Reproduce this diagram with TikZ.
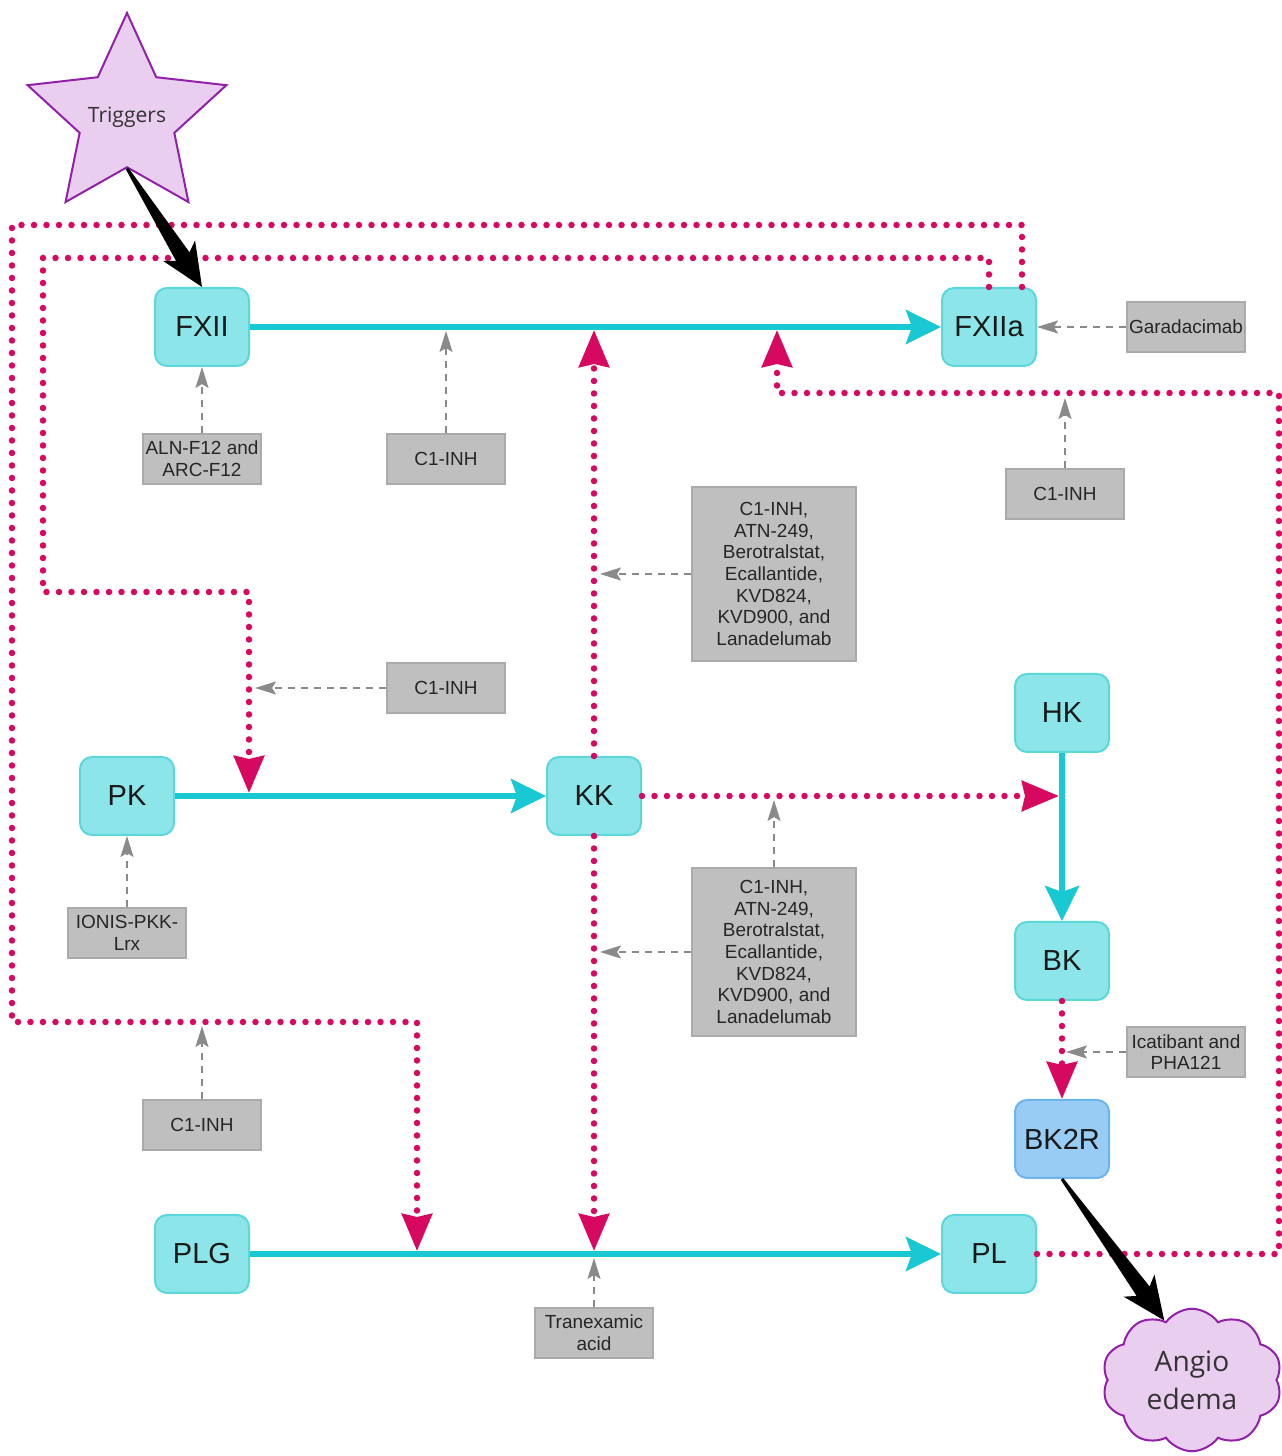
\documentclass[tikz,border=0pt]{standalone}
\usepackage{fontspec}
\setmainfont{Liberation Sans}
\newfontfamily\opensans{Open Sans}
\usetikzlibrary{arrows.meta,calc,shapes.geometric,shapes.symbols}

\definecolor{factorfill}{HTML}{8CE5E8}
\definecolor{factordraw}{HTML}{5CD7DC}
\definecolor{receptorfill}{HTML}{99CCF4}
\definecolor{receptordraw}{HTML}{6BB4EE}
\definecolor{activation}{HTML}{18C8D2}
\definecolor{feedback}{HTML}{D6085F}
\definecolor{drugfill}{HTML}{BFBFBF}
\definecolor{drugdraw}{HTML}{AAAAAA}
\definecolor{inhibition}{HTML}{8A8A8A}
\definecolor{eventfill}{HTML}{E9CEEF}
\definecolor{eventdraw}{HTML}{9021A8}

\tikzset{
  factor/.style={draw=factordraw, fill=factorfill, line width=0.04cm, rounded corners=0.24cm,
    minimum width=1.88cm, minimum height=1.56cm, inner sep=0pt, text=black!90,
    font=\fontsize{16.5}{19}\selectfont},
  receptor/.style={factor, draw=receptordraw, fill=receptorfill},
  drug/.style={draw=drugdraw, fill=drugfill, line width=0.04cm, minimum width=2.36cm,
    minimum height=1.0cm, inner sep=1pt, align=center, text=black!85,
    font=\fontsize{10.8}{12.3}\selectfont},
  bigdrug/.style={drug, minimum width=3.28cm},
  event/.style={draw=eventdraw, fill=eventfill, line width=0.04cm, text=black!80, inner sep=0pt, align=center},
  activate/.style={draw=activation, line width=0.11cm, -{Stealth[length=0.7cm,width=0.68cm,inset=0.12cm]}},
  feed/.style={draw=feedback, line width=0.13cm, line cap=round, dash pattern=on 0pt off 0.25cm,
    -{Stealth[length=0.74cm,width=0.6cm,inset=0.06cm]}},
  block/.style={draw=inhibition, line width=0.035cm, dash pattern=on 0.14cm off 0.12cm,
    -{Stealth[length=0.42cm,width=0.26cm,inset=0.08cm]}},
}

% tapered black arrow from #1 to #2
\newcommand{\fatarrow}[2]{%
  \path ($(#2)!0.72cm!(#1)$) coordinate (fa-neck) ($(#2)!0.86cm!(#1)$) coordinate (fa-barb);%
  \fill [black] ($(#1)!0.03cm!90:(#2)$) -- ($(fa-neck)!0.16cm!-90:(#1)$) -- ($(fa-barb)!0.38cm!-90:(#1)$)
    -- (#2) -- ($(fa-barb)!0.38cm!90:(#1)$) -- ($(fa-neck)!0.16cm!90:(#1)$) -- ($(#1)!0.03cm!-90:(#2)$) -- cycle;}

\begin{document}
\begin{tikzpicture}
                    \useasboundingbox (0,0) rectangle (25.640000,29.120000);%

                    % Marking the triggers star
                    \node [event, star, star points=5, star point ratio=2.1, minimum size=4.18cm,
                      label={[text=black!80, font=\opensans\fontsize{12}{14}\selectfont]center:Triggers}] (trig) at (2.540000,26.770000) {};%

                    % Marking the angioedema cloud
                    \node [event, cloud, cloud puffs=10, cloud puff arc=110, aspect=1.25, minimum width=3.6cm,
                      minimum height=2.85cm, font=\opensans\fontsize{16}{21.5}\selectfont] (angio) at (23.840000,1.520000) {Angio\\edema};%

                    % Drawing factors
                    \node [factor] (fxii) at (4.040000,22.580000) {FXII};%
                    \node [factor] (fxiia) at (19.780000,22.580000) {FXIIa};%
                    \node [factor] (pk) at (2.540000,13.200000) {PK};%
                    \node [factor] (kk) at (11.880000,13.200000) {KK};%
                    \node [factor] (hk) at (21.240000,14.860000) {HK};%
                    \node [factor] (bk) at (21.240000,9.900000) {BK};%
                    \node [receptor] (bk2r) at (21.240000,6.340000) {BK2R};%
                    \node [factor] (plg) at (4.040000,4.040000) {PLG};%
                    \node [factor] (pl) at (19.780000,4.040000) {PL};%

                    % Drawing drug boxes
                    \node [drug] (gara) at (23.720000,22.580000) {Garadacimab};%
                    \node [drug] (aln) at (4.040000,19.940000) {ALN-F12 and\\ARC-F12};%
                    \node [drug] (c1a) at (8.920000,19.940000) {C1-INH};%
                    \node [drug] (c1b) at (21.300000,19.240000) {C1-INH};%
                    \node [bigdrug, minimum height=3.48cm] (multi1) at (15.480000,17.640000)
                      {C1-INH,\\ATN-249,\\Berotralstat,\\Ecallantide,\\KVD824,\\KVD900, and\\Lanadelumab};%
                    \node [drug] (c1c) at (8.920000,15.360000) {C1-INH};%
                    \node [drug] (ionis) at (2.540000,10.460000) {IONIS-PKK-\\Lrx};%
                    \node [bigdrug, minimum height=3.36cm] (multi2) at (15.480000,10.080000)
                      {C1-INH,\\ATN-249,\\Berotralstat,\\Ecallantide,\\KVD824,\\KVD900, and\\Lanadelumab};%
                    \node [drug] (icat) at (23.720000,8.080000) {Icatibant and\\PHA121};%
                    \node [drug] (c1d) at (4.040000,6.620000) {C1-INH};%
                    \node [drug] (tranex) at (11.880000,2.460000) {Tranexamic\\acid};%

                    % Marking points on the lines
                    \coordinate (fx-c1) at (8.920000,22.500000);%
                    \coordinate (fx-kk) at (11.880000,22.520000);%
                    \coordinate (fx-pl) at (15.540000,22.520000);%
                    \coordinate (pk-fxiia) at (4.980000,13.260000);%
                    \coordinate (hk-kk) at (21.180000,13.200000);%
                    \coordinate (plg-fxiia) at (8.340000,4.100000);%
                    \coordinate (plg-kk) at (11.880000,4.100000);%
                    \coordinate (plg-tx) at (11.880000,3.960000);%
                    \coordinate (plloop-c1) at (21.300000,21.160000);%
                    \coordinate (kkup-drug) at (12.000000,17.640000);%
                    \coordinate (pkloop-c1) at (5.100000,15.360000);%
                    \coordinate (kkdown-drug) at (12.000000,10.080000);%
                    \coordinate (kkhk-drug) at (15.480000,13.120000);%
                    \coordinate (bkbk2r-drug) at (21.320000,8.080000);%
                    \coordinate (outloop-c1) at (4.040000,8.600000);%

                    % Drawing activation arrows
                    \draw [activate] (fxii.east) -- (fxiia.west);%
                    \draw [activate] (pk.east) -- (kk.west);%
                    \draw [activate] (plg.east) -- (pl.west);%
                    \draw [activate] (hk.south) -- (bk.north);%

                    % Drawing feedback loops
                    \draw [feed] ([xshift=0.66cm]fxiia.north) -- (20.440000,24.620000) -- (0.240000,24.620000)
                      -- (0.240000,8.680000) -- (8.340000,8.680000) -- (plg-fxiia);%
                    \draw [feed] (fxiia.north) -- (19.780000,23.960000) -- (0.860000,23.960000)
                      -- (0.860000,17.280000) -- (4.980000,17.280000) -- (pk-fxiia);%
                    \draw [feed] (kk.north) -- (fx-kk);%
                    \draw [feed] (kk.south) -- (plg-kk);%
                    \draw [feed] (kk.east) -- (hk-kk);%
                    \draw [feed] (bk.south) -- (bk2r.north);%
                    \draw [feed] (pl.east) -- (25.580000,4.040000) -- (25.580000,21.260000)
                      -- (15.540000,21.260000) -- (fx-pl);%

                    % Drawing inhibitions
                    \draw [block] (gara.west) -- (fxiia.east);%
                    \draw [block] (aln.north) -- (fxii.south);%
                    \draw [block] (c1a.north) -- (fx-c1);%
                    \draw [block] (c1b.north) -- (plloop-c1);%
                    \draw [block] (multi1.west) -- (kkup-drug);%
                    \draw [block] (c1c.west) -- (pkloop-c1);%
                    \draw [block] (ionis.north) -- (pk.south);%
                    \draw [block] (multi2.west) -- (kkdown-drug);%
                    \draw [block] (multi2.north) -- (kkhk-drug);%
                    \draw [block] (icat.west) -- (bkbk2r-drug);%
                    \draw [block] (c1d.north) -- (outloop-c1);%
                    \draw [block] (tranex.north) -- (plg-tx);%

                    % Drawing the two black arrows
                    \fatarrow{trig.inner point 3}{fxii.north}%
                    \fatarrow{bk2r.south}{angio.115}%
\end{tikzpicture}
\end{document}
